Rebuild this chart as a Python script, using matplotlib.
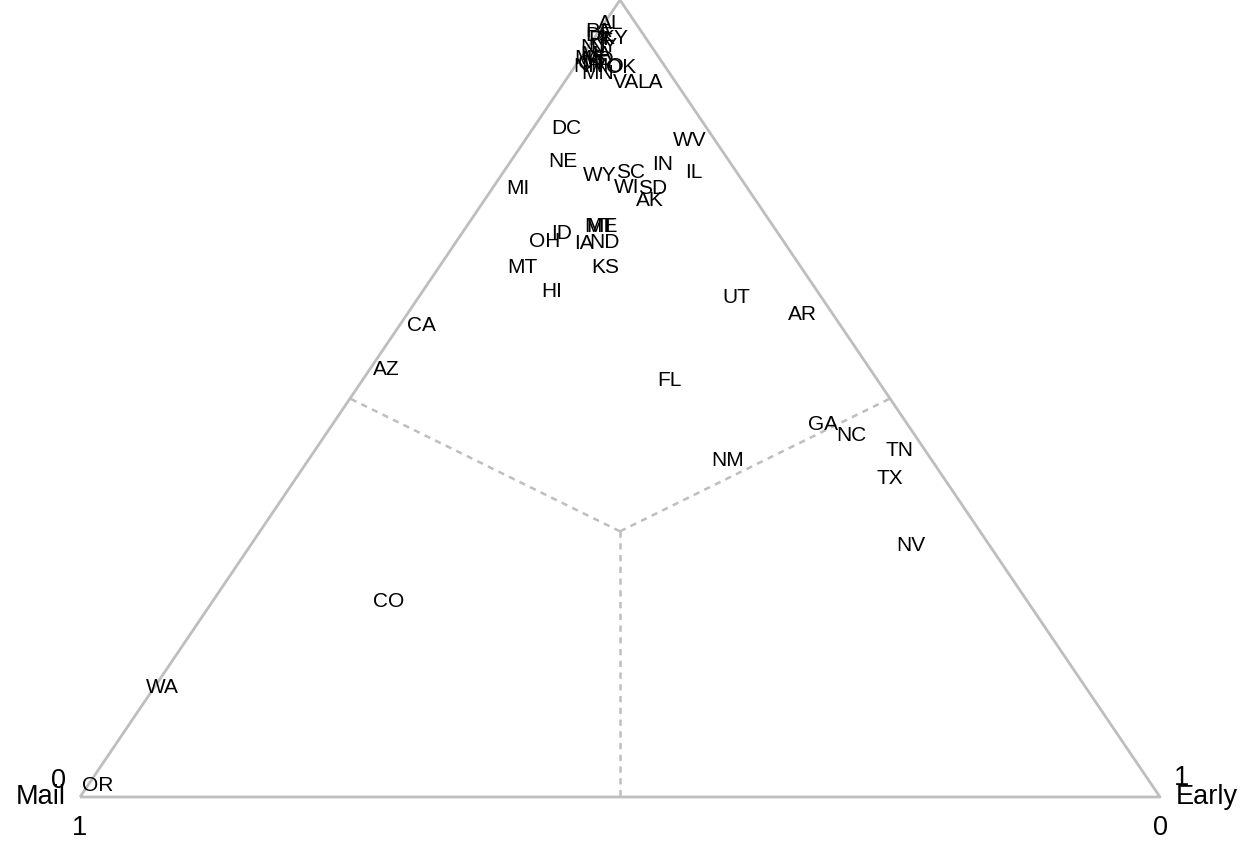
import matplotlib
matplotlib.use("Agg")
import matplotlib.pyplot as plt

plt.rcParams['font.family'] = ['Liberation Sans', 'DejaVu Sans']

states = ["DC", "WV", "NE", "WY", "SC", "IN", "IL", "MI", "WI", "SD", "AK",
          "ME", "MT", "ID", "OH", "IA", "ND", "MT", "KS", "HI", "UT", "AR",
          "CA", "AZ", "FL", "GA", "NC", "TN", "NM", "TX", "NV", "CO", "WA", "OR",
          "AL", "PA", "KY", "DE", "RI", "NJ", "NY", "MA", "MS", "MD", "CT",
          "NH", "VT", "MO", "MN", "OK", "VA", "LA"]
mail = [0.130, 0.023, 0.154, 0.129, 0.099, 0.064, 0.040, 0.213, 0.111, 0.088, 0.098,
        0.159, 0.161, 0.200, 0.221, 0.186, 0.166, 0.258, 0.182, 0.246, 0.079, 0.029,
        0.388, 0.448, 0.193, 0.078, 0.059, 0.024, 0.189, 0.050, 0.073, 0.592, 0.855, 0.976,
        0.024, 0.040, 0.029, 0.041, 0.045, 0.055, 0.045, 0.056, 0.064, 0.058, 0.066,
        0.071, 0.062, 0.053, 0.067, 0.041, 0.046, 0.024]
early = [0.031, 0.153, 0.049, 0.091, 0.118, 0.143, 0.177, 0.023, 0.124, 0.148, 0.154,
         0.125, 0.123, 0.0925, 0.082, 0.119, 0.138, 0.078, 0.154, 0.120, 0.294, 0.366,
         0.020, 0.016, 0.284, 0.454, 0.488, 0.541, 0.389, 0.550, 0.612, 0.163, 0.007, 0.009,
         0.006, 0.000, 0.019, 0.004, 0.005, 0.005, 0.013, 0.012, 0.009, 0.017, 0.014,
         0.012, 0.016, 0.030, 0.025, 0.044, 0.057, 0.079]
eday = [0.839, 0.824, 0.797, 0.780, 0.783, 0.793, 0.783, 0.764, 0.765, 0.764, 0.748,
        0.716, 0.716, 0.708, 0.696, 0.695, 0.695, 0.664, 0.664, 0.634, 0.627, 0.605,
        0.592, 0.536, 0.523, 0.468, 0.453, 0.435, 0.422, 0.400, 0.315, 0.245, 0.138, 0.015,
        0.970, 0.960, 0.952, 0.955, 0.950, 0.940, 0.942, 0.932, 0.927, 0.925, 0.920,
        0.917, 0.922, 0.917, 0.908, 0.915, 0.897, 0.897]

axis_names = ["Mail", "Early"]


def to_xy(m, e, d):
    s = m + e + d
    return e / s + 0.5 * d / s, d / s


W, H = 1247, 842
fig = plt.figure(figsize=(W / 100, H / 100), dpi=100)
ax = fig.add_axes([80 / W, 45 / H, 1080 / W, 797 / H])
ax.set_xlim(0, 1)
ax.set_ylim(0, 1)
ax.axis('off')

edge_col = '#BEBEBE'
# triangle edges
verts = [(1, 0, 0), (0, 1, 0), (0, 0, 1), (1, 0, 0)]
vx, vy = zip(*[to_xy(*v) for v in verts])
ax.plot(vx, vy, color=edge_col, lw=2.0, clip_on=False, solid_capstyle='butt', zorder=1)

# dashed region boundaries from centroid to edge midpoints
c = to_xy(1 / 3, 1 / 3, 1 / 3)
for mid in [(0.5, 0.5, 0), (0.5, 0, 0.5), (0, 0.5, 0.5)]:
    p = to_xy(*mid)
    ax.plot([c[0], p[0]], [c[1], p[1]], color=edge_col, lw=1.8,
            ls=(0, (2.5, 2.2)), clip_on=False, zorder=1)

for s, m, e, d in zip(states, mail, early, eday):
    x, y = to_xy(m, e, d)
    ax.text(x, y, s, ha='center', va='center', fontsize=15, color='black',
            clip_on=False, zorder=3)


def px(xp, yp):
    return (xp - 80) / 1080, (797 - yp) / 797


lab_fs = 19.5
ax.text(*px(66, 797), axis_names[0], ha='right', va='center', fontsize=lab_fs, clip_on=False)
ax.text(*px(1176, 797), axis_names[1], ha='left', va='center', fontsize=lab_fs, clip_on=False)
ax.text(*px(58, 781), "0", ha='center', va='center', fontsize=lab_fs, clip_on=False)
ax.text(*px(80, 828), "1", ha='center', va='center', fontsize=lab_fs, clip_on=False)
ax.text(*px(1181, 778), "1", ha='center', va='center', fontsize=lab_fs, clip_on=False)
ax.text(*px(1160, 828), "0", ha='center', va='center', fontsize=lab_fs, clip_on=False)

fig.savefig("out.png", dpi=100, facecolor='white')
